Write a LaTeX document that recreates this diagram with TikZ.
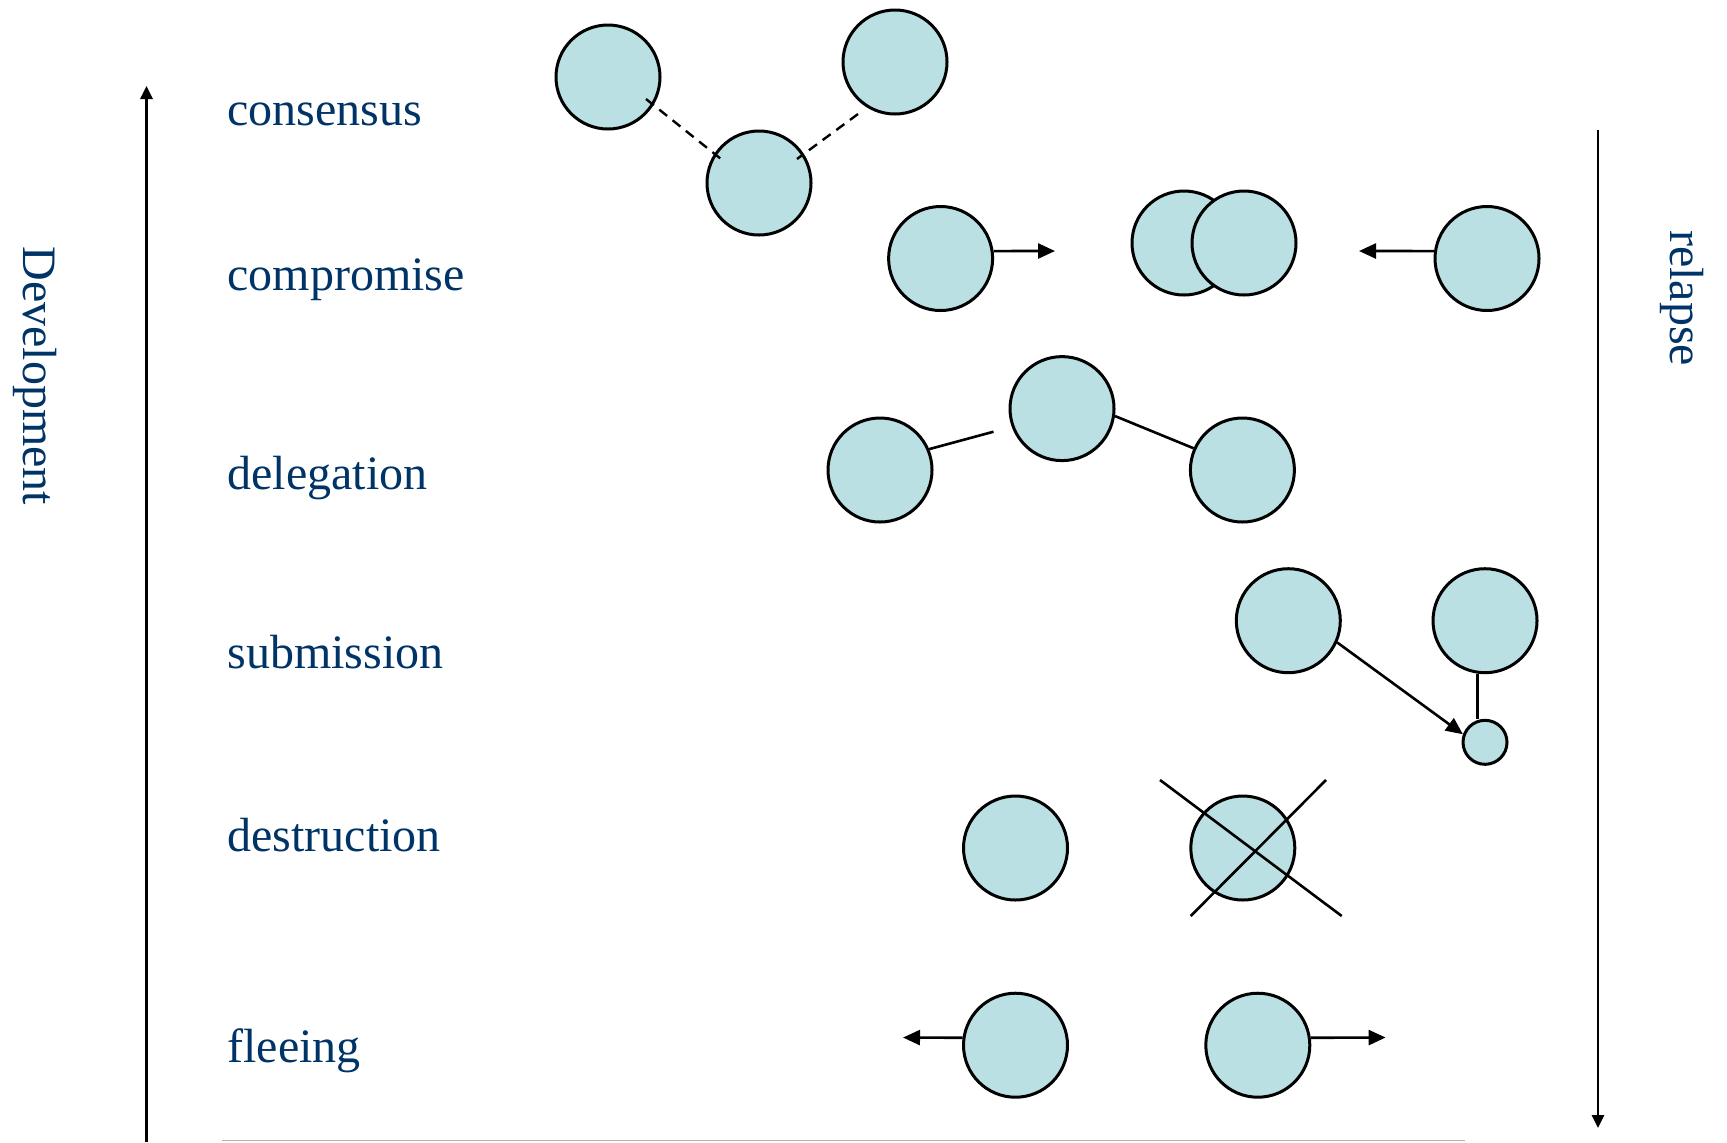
\documentclass[tikz,border=0pt]{standalone}
\usepackage{fontspec}
\setmainfont{Liberation Serif}
\usetikzlibrary{arrows.meta}
\definecolor{cfill}{HTML}{BAE0E3}
\definecolor{txtblue}{RGB}{0,51,102}
\begin{document}
\begin{tikzpicture}[x=0.5pt,y=-0.5pt,
  ball/.style={circle,draw=black,fill=cfill,line width=1.5pt,minimum size=52pt,inner sep=0pt},
  smallball/.style={ball,minimum size=22pt},
  lbl/.style={anchor=base west,inner sep=0pt,text=txtblue,font=\fontsize{24}{28}\selectfont},
  sidelbl/.style={inner sep=0pt,text=txtblue,font=\fontsize{24}{28}\selectfont,rotate=-90},
  axis/.style={line width=1.4pt,-{Triangle[length=6.5pt,width=6pt]}},
  conn/.style={line width=1.3pt},
  arr/.style={line width=1.3pt,-{Triangle[length=8.5pt,width=7.5pt]}},
  dashconn/.style={line width=1.2pt,dash pattern=on 5pt off 3.5pt}]
\useasboundingbox (0,0) rectangle (1727,1142);

% axes
\coordinate (la0) at (146.5,1142);
\coordinate (la1) at (146.5,86);
\draw[axis] (la0) -- (la1);
\coordinate (ra0) at (1598,130);
\coordinate (ra1) at (1598,1128);
\draw[axis] (ra0) -- (ra1);
\coordinate (bl0) at (222,1140.5);
\coordinate (bl1) at (1465,1140.5);
\draw[gray!60,line width=0.5pt] (bl0) -- (bl1);

\node[sidelbl] (dev) at (35,376) {Development};
\node[sidelbl] (rel) at (1682,298) {relapse};

% labels
\node[lbl] (l1) at (227,125.7) {consensus};
\node[lbl] (l2) at (227,290) {compromise};
\node[lbl] (l3) at (227,489) {delegation};
\node[lbl] (l4) at (227,668.3) {submission};
\node[lbl] (l5) at (227,851.7) {destruction};
\node[lbl] (l6) at (227,1062.3) {fleeing};

% consensus
\node[ball] (c1) at (608,77) {};
\node[ball] (c2) at (759,183) {};
\node[ball] (c3) at (895,62) {};
\coordinate (d1a) at (646,99);
\coordinate (d1b) at (721,159);
\coordinate (d2a) at (858,114);
\coordinate (d2b) at (797,159);
\draw[dashconn] (d1a) -- (d1b);
\draw[dashconn] (d2a) -- (d2b);

% compromise
\node[ball] (c4) at (940.6,258.5) {};
\node[ball] (c5a) at (1184,243) {};
\node[ball] (c5b) at (1244,243) {};
\node[ball] (c6) at (1487,258.5) {};
\coordinate (a1) at (1055,251);
\coordinate (a2) at (1359,251);
\draw[arr] (c4.8) -- (a1);
\draw[arr] (c6.172) -- (a2);

% delegation
\node[ball] (c7) at (880,470) {};
\node[ball] (c8) at (1062,408.6) {};
\node[ball] (c9) at (1242.4,470) {};
\coordinate (e1) at (993.5,431.7);
\draw[conn] (c7.23) -- (e1);
\draw[conn] (c8.-8) -- (c9.156);

% submission
\node[ball] (c10) at (1288.3,620.7) {};
\node[ball] (c11) at (1485,620.7) {};
\node[smallball] (c12) at (1485,742.3) {};
\draw[arr] (c10.-24) -- (c12.160);
\draw[conn] (c11.-98) -- (c11.-98 |- c12.north);

% destruction
\node[ball] (c13) at (1015.5,848) {};
\node[ball] (c14) at (1242.8,848) {};
\coordinate (x1a) at (1160,780);
\coordinate (x1b) at (1341.7,916);
\coordinate (x2a) at (1326,780);
\coordinate (x2b) at (1190.7,916);
\draw[conn] (x1a) -- (x1b);
\draw[conn] (x2a) -- (x2b);

% fleeing
\node[ball] (c15) at (1015.5,1045.2) {};
\node[ball] (c16) at (1257.8,1045.2) {};
\coordinate (f1) at (903,1037.5);
\coordinate (f2) at (1385.6,1037.5);
\draw[arr] (c15.172) -- (f1);
\draw[arr] (c16.8) -- (f2);
\end{tikzpicture}
\end{document}
